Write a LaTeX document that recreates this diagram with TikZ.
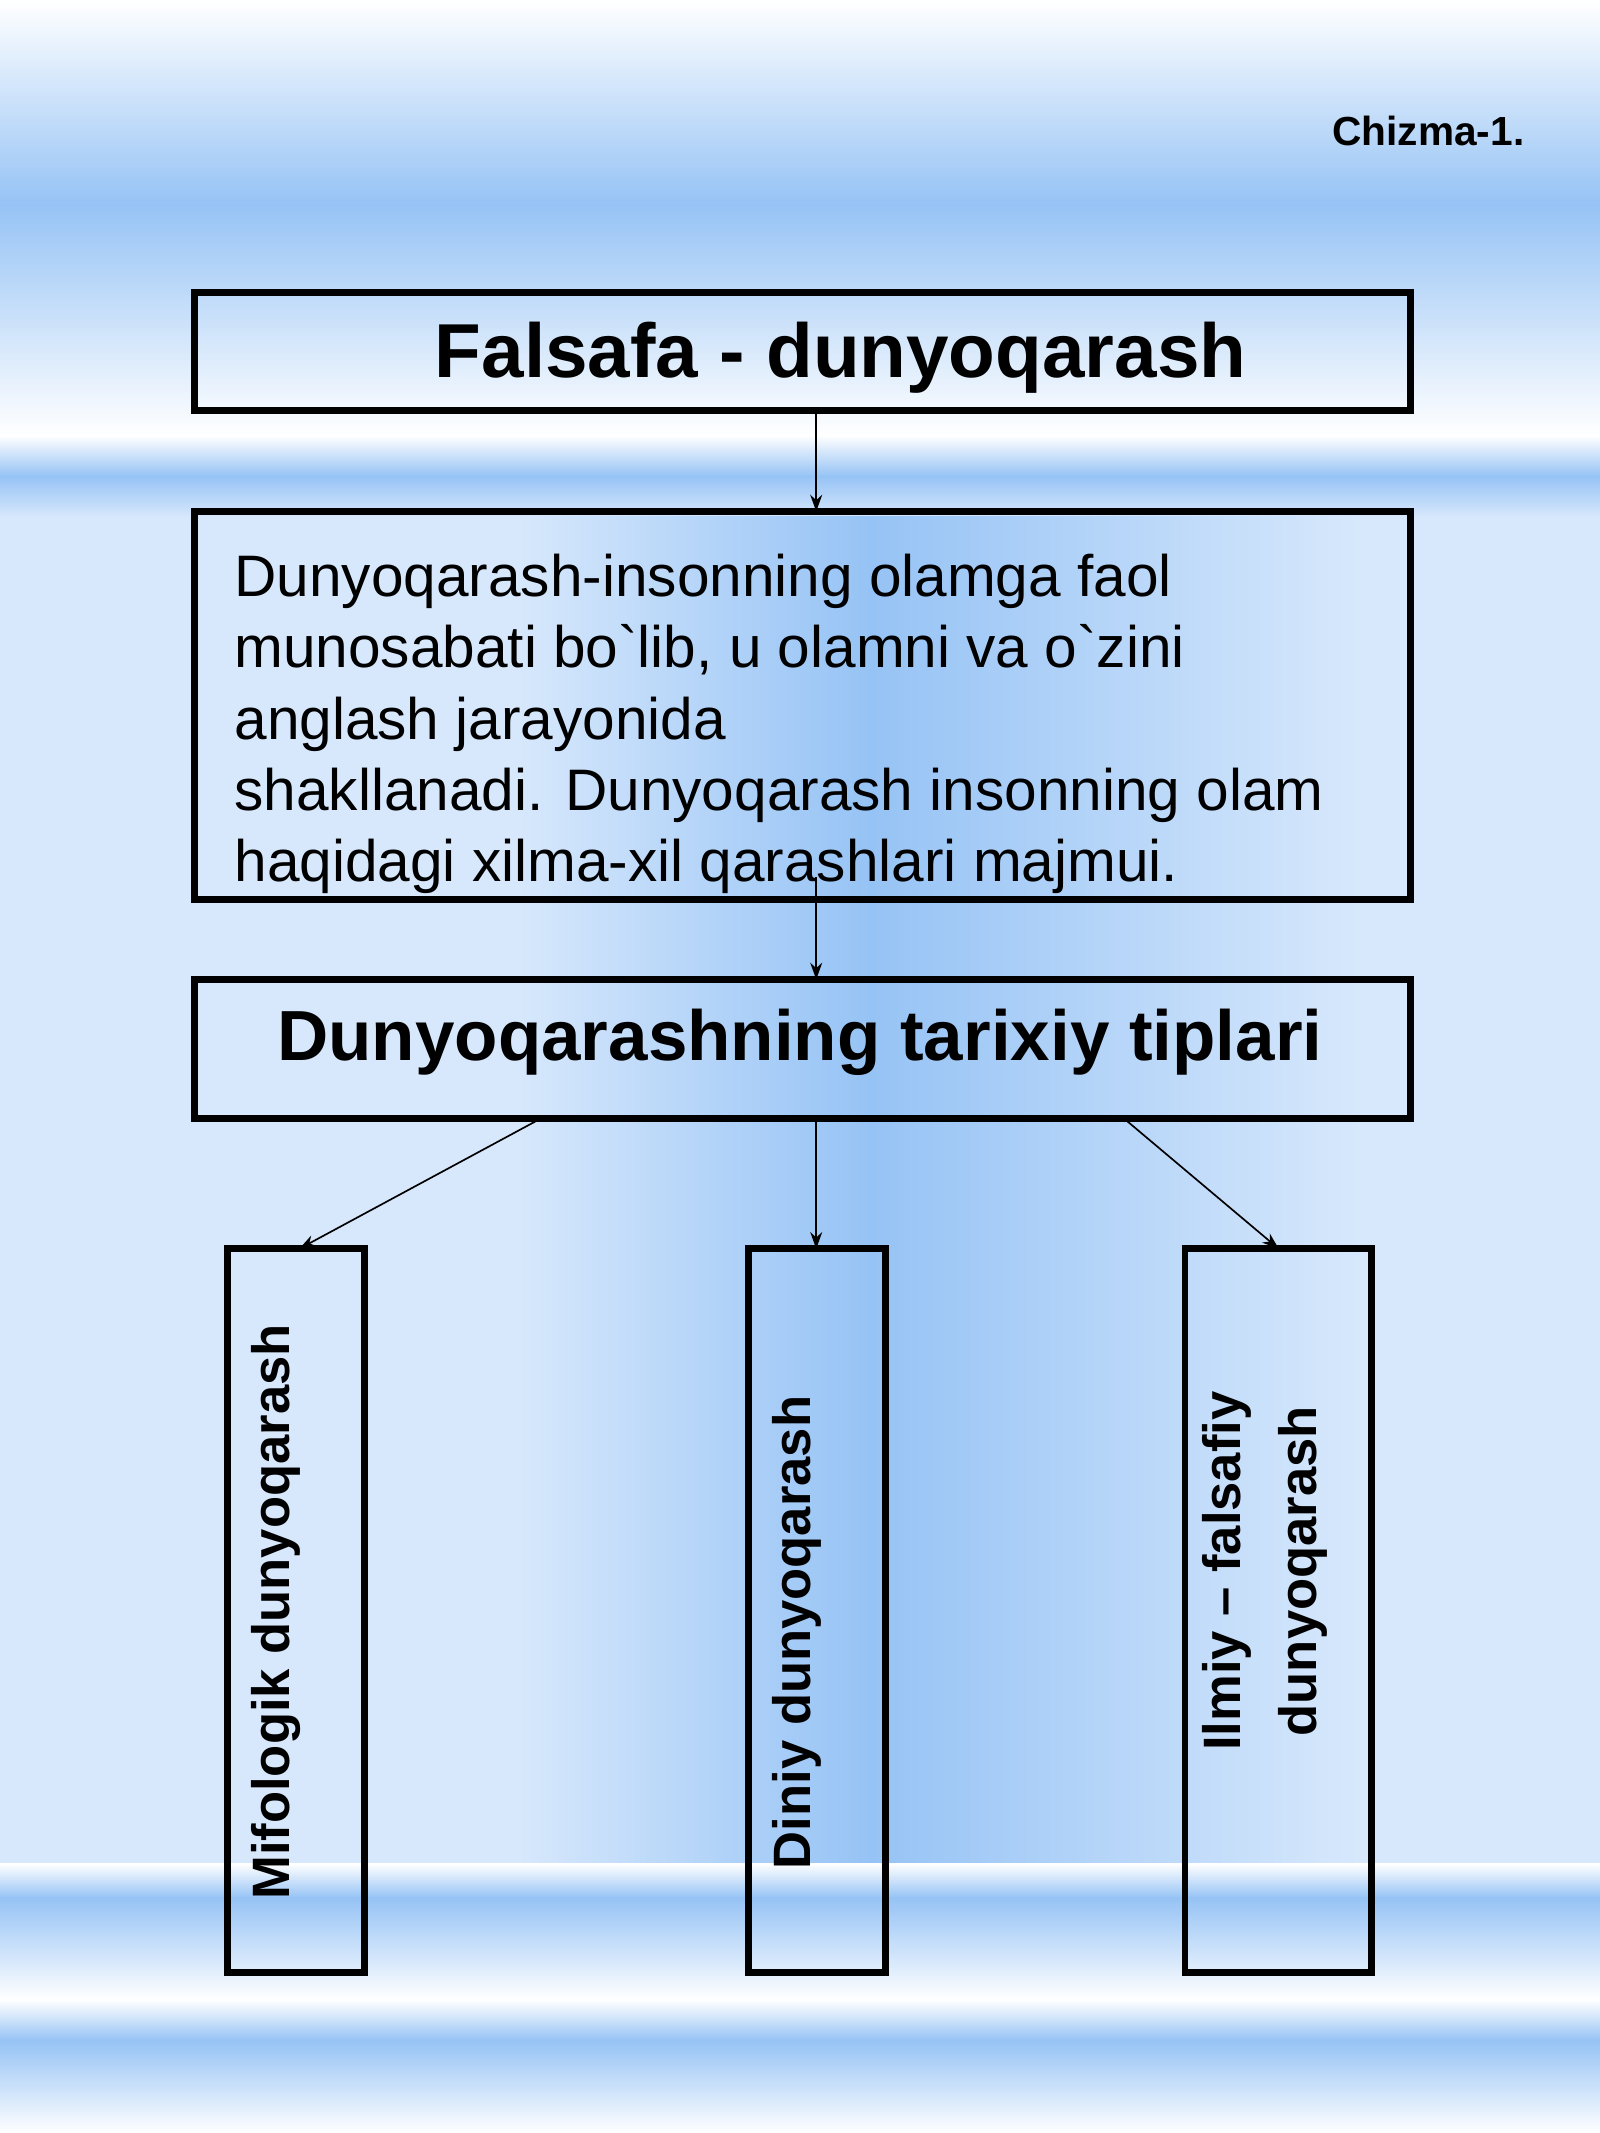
\documentclass[tikz,border=0pt]{standalone}
\usepackage{fontspec}
\setmainfont{Liberation Sans}
\usetikzlibrary{arrows.meta}
\definecolor{bl}{RGB}{150,195,245}
\definecolor{bll}{RGB}{215,232,252}
\begin{document}
\begin{tikzpicture}[x=0.02cm,y=-0.02cm,
  box/.style={draw=black,line width=2.8pt,fill=none},
  arr/.style={-{Stealth[length=7pt,width=5pt]},line width=0.7pt}]
\useasboundingbox (0,0) rectangle (1176,1568);
% background
\fill[white] (0,0) rectangle (1176,1568);
\shade[top color=white,bottom color=bl] (0,0) rectangle (1176,150);
\shade[top color=bl,bottom color=white] (0,150) rectangle (1176,320);
\shade[top color=white,bottom color=bl] (0,320) rectangle (1176,350);
\shade[top color=bl,bottom color=bll] (0,350) rectangle (1176,380);
\fill[bll] (0,380) rectangle (1176,1370);
\shade[left color=bll,right color=bl] (380,380) rectangle (640,1370);
\shade[left color=bl,right color=bll] (640,380) rectangle (1000,1370);
\shade[top color=white,bottom color=bl] (0,1370) rectangle (1176,1395);
\shade[top color=bl,bottom color=white] (0,1395) rectangle (1176,1470);
\shade[top color=white,bottom color=bl] (0,1470) rectangle (1176,1500);
\shade[top color=bl,bottom color=white] (0,1500) rectangle (1176,1568);
% texts and boxes
\node[font=\fontsize{17}{20}\selectfont\bfseries] (ch) at (1050,96) {Chizma-1.};
\draw[box] (143,215) rectangle (1037,302);
\node[font=\fontsize{32}{38}\selectfont\bfseries] (t1) at (618,263) {Falsafa - dunyoqarash};
\coordinate (b1) at (600,302);
\draw[box] (143,376) rectangle (1037,661);
\coordinate (b2t) at (600,376);
\node[anchor=north west,align=left,inner sep=0pt,font=\fontsize{24.5}{29.8}\selectfont] (t2) at (172,407)
 {Dunyoqarash-insonning olamga faol\\munosabati bo\textasciigrave lib, u olamni va o\textasciigrave zini\\anglash jarayonida\\shakllanadi. Dunyoqarash insonning olam\\haqidagi xilma-xil qarashlari majmui.};
\coordinate (b2b) at (600,645);
\draw[box] (143,720) rectangle (1037,822);
\coordinate (b3t) at (600,720);
\node[font=\fontsize{29.7}{36}\selectfont\bfseries] (t3) at (588,766) {Dunyoqarashning tarixiy tiplari};
\coordinate (b3a) at (398,822);
\coordinate (b3b) at (600,822);
\coordinate (b3c) at (826,822);
\draw[box] (167,918) rectangle (268,1450);
\draw[box] (550,918) rectangle (651,1450);
\draw[box] (871,918) rectangle (1008,1450);
\coordinate (ta) at (220,918);
\coordinate (tb) at (600,918);
\coordinate (tc) at (940,918);
\node[rotate=90,font=\fontsize{22}{26}\selectfont\bfseries] (va) at (203,1185) {Mifologik dunyoqarash};
\node[rotate=90,font=\fontsize{22}{26}\selectfont\bfseries] (vb) at (586,1200) {Diniy dunyoqarash};
\node[rotate=90,align=center,font=\fontsize{22}{32}\selectfont\bfseries] (vc) at (930,1155) {Ilmiy – falsafiy\\dunyoqarash};
\draw[arr] (b1) -- (b2t);
\draw[arr] (b2b) -- (b3t);
\draw[arr] (b3a) -- (ta);
\draw[arr] (b3b) -- (tb);
\draw[arr] (b3c) -- (tc);
\end{tikzpicture}
\end{document}
